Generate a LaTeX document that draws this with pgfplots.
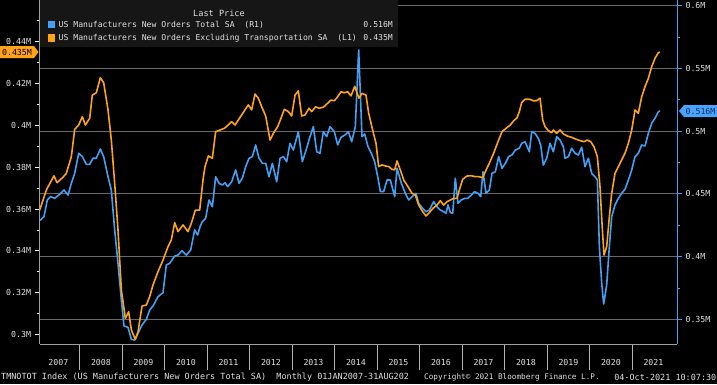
\documentclass[border=0pt]{standalone}
\usepackage{pgfplots}
\pgfplotsset{compat=1.18}
\usepackage{fontspec}
\setmainfont{DejaVu Sans Mono}
\newfontfamily\bbg{DejaVu Sans Mono}
\definecolor{bblue}{RGB}{66,160,245}
\definecolor{borange}{RGB}{255,163,26}
\definecolor{gridc}{RGB}{105,105,105}
\definecolor{txt}{RGB}{225,225,225}
\definecolor{legbg}{RGB}{22,22,22}
\definecolor{tagblue}{RGB}{74,163,255}
\definecolor{tagtxtb}{RGB}{20,45,90}

\pgfplotstableread{
x y
2007.058 0.4286
2007.160 0.4318
2007.238 0.4451
2007.317 0.4477
2007.411 0.4464
2007.529 0.4496
2007.631 0.4530
2007.725 0.4490
2007.803 0.4584
2007.882 0.4663
2007.976 0.4823
2008.062 0.4796
2008.156 0.4735
2008.235 0.4735
2008.313 0.4783
2008.391 0.4783
2008.485 0.4857
2008.564 0.4796
2008.666 0.4636
2008.744 0.4530
2008.823 0.4212
2008.901 0.3946
2008.980 0.3654
2009.042 0.3447
2009.136 0.3436
2009.215 0.3340
2009.293 0.3335
2009.372 0.3388
2009.466 0.3455
2009.568 0.3500
2009.646 0.3574
2009.725 0.3606
2009.842 0.3680
2009.960 0.3712
2010.038 0.3933
2010.117 0.3946
2010.235 0.4004
2010.313 0.4012
2010.407 0.4047
2010.509 0.4012
2010.611 0.4052
2010.705 0.4212
2010.776 0.4172
2010.831 0.4238
2010.885 0.4278
2010.964 0.4305
2011.042 0.4451
2011.121 0.4397
2011.199 0.4636
2011.278 0.4584
2011.356 0.4570
2011.419 0.4588
2011.482 0.4557
2011.576 0.4596
2011.670 0.4690
2011.748 0.4584
2011.827 0.4624
2011.905 0.4716
2011.984 0.4783
2012.062 0.4796
2012.140 0.4889
2012.219 0.4783
2012.297 0.4743
2012.376 0.4743
2012.454 0.4636
2012.533 0.4743
2012.635 0.4596
2012.713 0.4783
2012.791 0.4796
2012.870 0.4756
2012.948 0.4902
2013.027 0.4849
2013.144 0.4995
2013.238 0.4756
2013.340 0.4863
2013.395 0.4929
2013.497 0.5035
2013.576 0.4835
2013.654 0.4823
2013.732 0.4995
2013.811 0.4955
2013.889 0.5035
2013.991 0.4995
2014.070 0.4889
2014.148 0.4950
2014.242 0.4969
2014.321 0.4995
2014.399 0.4915
2014.485 0.5035
2014.564 0.5646
2014.642 0.4955
2014.705 0.4977
2014.784 0.4875
2014.862 0.4823
2014.940 0.4756
2015.019 0.4624
2015.074 0.4517
2015.152 0.4517
2015.231 0.4610
2015.309 0.4610
2015.411 0.4477
2015.466 0.4703
2015.568 0.4584
2015.662 0.4504
2015.740 0.4451
2015.819 0.4477
2015.913 0.4504
2015.976 0.4424
2016.070 0.4384
2016.148 0.4357
2016.227 0.4371
2016.329 0.4437
2016.407 0.4397
2016.485 0.4371
2016.564 0.4357
2016.619 0.4345
2016.666 0.4411
2016.721 0.4350
2016.776 0.4345
2016.838 0.4624
2016.901 0.4424
2016.980 0.4451
2017.058 0.4464
2017.136 0.4464
2017.215 0.4490
2017.293 0.4517
2017.372 0.4504
2017.435 0.4477
2017.489 0.4676
2017.560 0.4504
2017.638 0.4530
2017.701 0.4663
2017.780 0.4676
2017.858 0.4796
2017.936 0.4703
2018.015 0.4743
2018.093 0.4796
2018.172 0.4810
2018.250 0.4849
2018.344 0.4863
2018.399 0.4902
2018.478 0.4915
2018.580 0.4835
2018.635 0.4995
2018.713 0.4982
2018.791 0.4942
2018.846 0.4889
2018.909 0.4729
2018.987 0.4783
2019.066 0.4902
2019.144 0.4835
2019.223 0.4955
2019.301 0.4929
2019.380 0.4875
2019.419 0.4783
2019.497 0.4796
2019.576 0.4863
2019.654 0.4823
2019.733 0.4809
2019.811 0.4871
2019.889 0.4716
2019.968 0.4783
2020.046 0.4663
2020.125 0.4636
2020.180 0.4610
2020.227 0.4079
2020.282 0.3787
2020.329 0.3622
2020.399 0.3773
2020.462 0.4079
2020.517 0.4318
2020.595 0.4411
2020.674 0.4464
2020.752 0.4504
2020.831 0.4536
2020.909 0.4610
2020.988 0.4690
2021.066 0.4796
2021.144 0.4823
2021.223 0.4889
2021.301 0.4881
2021.380 0.4982
2021.458 0.5062
2021.536 0.5102
2021.615 0.5154
2021.654 0.5160
}\totaldata

\pgfplotstableread{
x y
2007.058 0.3595
2007.215 0.3691
2007.395 0.3759
2007.466 0.3726
2007.607 0.3752
2007.685 0.3771
2007.803 0.3850
2007.882 0.3981
2007.976 0.4002
2008.062 0.4042
2008.133 0.4002
2008.235 0.4034
2008.297 0.4145
2008.391 0.4156
2008.485 0.4228
2008.564 0.4204
2008.666 0.4074
2008.744 0.3930
2008.823 0.3723
2008.901 0.3500
2008.980 0.3213
2009.074 0.3077
2009.152 0.3109
2009.215 0.3022
2009.309 0.2977
2009.372 0.3013
2009.466 0.3136
2009.568 0.3141
2009.646 0.3181
2009.725 0.3237
2009.842 0.3300
2009.960 0.3356
2010.078 0.3420
2010.156 0.3452
2010.235 0.3535
2010.313 0.3492
2010.431 0.3524
2010.548 0.3492
2010.627 0.3532
2010.721 0.3595
2010.823 0.3595
2010.901 0.3739
2010.948 0.3803
2011.027 0.3854
2011.121 0.3843
2011.199 0.3970
2011.301 0.3978
2011.403 0.3986
2011.497 0.4002
2011.576 0.4018
2011.654 0.4002
2011.733 0.4026
2011.811 0.4050
2011.889 0.4074
2011.968 0.4098
2012.046 0.4074
2012.125 0.4150
2012.203 0.4130
2012.282 0.4089
2012.376 0.4045
2012.478 0.3930
2012.556 0.3962
2012.658 0.3994
2012.736 0.4034
2012.815 0.4077
2012.909 0.4066
2012.987 0.4045
2013.066 0.4145
2013.144 0.4165
2013.223 0.4045
2013.301 0.4050
2013.395 0.4082
2013.458 0.4066
2013.552 0.4089
2013.631 0.4082
2013.732 0.4087
2013.834 0.4106
2013.913 0.4121
2013.991 0.4118
2014.070 0.4137
2014.148 0.4161
2014.227 0.4156
2014.305 0.4161
2014.384 0.4141
2014.470 0.4187
2014.570 0.4130
2014.642 0.4153
2014.736 0.4145
2014.799 0.4058
2014.893 0.3978
2014.972 0.3914
2015.034 0.3803
2015.113 0.3811
2015.191 0.3806
2015.270 0.3803
2015.348 0.3790
2015.411 0.3787
2015.466 0.3830
2015.544 0.3787
2015.623 0.3739
2015.725 0.3707
2015.819 0.3675
2015.897 0.3667
2015.976 0.3619
2016.070 0.3587
2016.148 0.3567
2016.227 0.3583
2016.313 0.3604
2016.407 0.3619
2016.485 0.3640
2016.564 0.3619
2016.642 0.3635
2016.721 0.3643
2016.799 0.3651
2016.878 0.3651
2016.932 0.3691
2017.011 0.3742
2017.113 0.3758
2017.215 0.3759
2017.309 0.3755
2017.388 0.3755
2017.482 0.3750
2017.544 0.3779
2017.638 0.3819
2017.740 0.3867
2017.842 0.3922
2017.936 0.3970
2018.031 0.3986
2018.132 0.4002
2018.211 0.4022
2018.289 0.4036
2018.344 0.4066
2018.399 0.4109
2018.478 0.4125
2018.580 0.4125
2018.674 0.4118
2018.752 0.4118
2018.831 0.4130
2018.893 0.4026
2018.948 0.3994
2019.027 0.3975
2019.105 0.3965
2019.144 0.3978
2019.223 0.3962
2019.301 0.3978
2019.380 0.3959
2019.474 0.3949
2019.576 0.3943
2019.678 0.3934
2019.772 0.3927
2019.866 0.3922
2019.944 0.3930
2020.023 0.3922
2020.101 0.3898
2020.180 0.3850
2020.242 0.3707
2020.289 0.3532
2020.336 0.3380
2020.399 0.3420
2020.462 0.3563
2020.517 0.3675
2020.595 0.3771
2020.674 0.3803
2020.752 0.3835
2020.831 0.3867
2020.909 0.3914
2020.988 0.3978
2021.066 0.4074
2021.144 0.4058
2021.223 0.4137
2021.301 0.4185
2021.380 0.4225
2021.458 0.4281
2021.536 0.4321
2021.615 0.4348
2021.654 0.4350
}\exdata

\pgfplotsset{
  bbaxis/.style={
    at={(39.5bp,40bp)}, anchor=south west,
    scale only axis, width=637.5bp, height=344bp,
    xmin=2007.054, xmax=2022.054,
    tick align=outside,
    ticklabel style={font=\fontsize{8.3}{9}\bbg, color=txt},
  }
}

\begin{document}
\begin{tikzpicture}[x=1bp,y=1bp]
\fill[black] (0,0) rectangle (717,384);
\useasboundingbox (0,0) rectangle (717,384);

% right axis (total orders) with grid
\begin{axis}[bbaxis,
  ymin=0.33032, ymax=0.60442,
  axis x line=none, axis y line*=right,
  y axis line style={bblue, line width=0.8bp, -},
  ytick={0.35,0.4,0.45,0.5,0.55,0.6},
  yticklabels={0.35M,0.4M,0.45M,0.5M,0.55M,0.6M},
  minor ytick={0.375,0.425,0.475,0.525,0.575},
  major tick length=5bp, minor tick length=3bp,
  ytick style={bblue, line width=0.8bp},
  ymajorgrids, major grid style={gridc, line width=0.8bp},
]
\addplot[bblue, line width=1.6bp, line join=round] table[x=x,y=y] {\totaldata};
\end{axis}

% left axis (ex transportation)
\begin{axis}[bbaxis,
  ymin=0.29546, ymax=0.45997,
  axis x line=none, axis y line*=left,
  y axis line style={gray!75, line width=0.8bp, -},
  ytick={0.30,0.32,0.34,0.36,0.38,0.40,0.42,0.44},
  yticklabels={0.3M,0.32M,0.34M,0.36M,0.38M,0.4M,0.42M,0.44M},
  minor ytick={0.31,0.33,0.35,0.37,0.39,0.41,0.43,0.45},
  major tick length=5bp, minor tick length=3bp,
  ytick style={white, line width=0.8bp},
]
\addplot[borange, line width=1.6bp, line join=round] table[x=x,y=y] {\exdata};
\end{axis}

% x axis: year separators and labels
\begin{axis}[bbaxis,
  ymin=0, ymax=1,
  axis y line=none, axis x line*=bottom,
  x axis line style={gray!75, line width=0.8bp, -},
  xtick={2007.5,2008.5,2009.5,2010.5,2011.5,2012.5,2013.5,2014.5,2015.5,2016.5,2017.5,2018.5,2019.5,2020.5,2021.5},
  xticklabels={2007,2008,2009,2010,2011,2012,2013,2014,2015,2016,2017,2018,2019,2020,2021},
  minor xtick={2008,2009,2010,2011,2012,2013,2014,2015,2016,2017,2018,2019,2020,2021},
  major tick length=0bp, minor tick length=26bp,
  xtick style={gray!60, line width=0.6bp},
  xticklabel style={anchor=center, yshift=-18bp},
]
\end{axis}

% legend box
\fill[legbg] (39.5,337) rectangle (398,384);
\node[font=\fontsize{8.6}{9}\bbg, text=txt, inner sep=0] at (219,371) {Last Price};
\fill[bblue] (47.5,355.5) rectangle (55,363);
\node[font=\fontsize{8.15}{9}\bbg, text=txt, inner sep=0, anchor=west] at (58.5,359) {US Manufacturers New Orders Total SA\ \ (R1)};
\node[font=\fontsize{8.15}{9}\bbg, text=txt, inner sep=0, anchor=east] at (393,359) {0.516M};
\fill[borange] (47.5,342.5) rectangle (55,350);
\node[font=\fontsize{8.15}{9}\bbg, text=txt, inner sep=0, anchor=west] at (58.5,346) {US Manufacturers New Orders Excluding Transportation SA\ \ (L1)};
\node[font=\fontsize{8.15}{9}\bbg, text=txt, inner sep=0, anchor=east] at (393,346) {0.435M};

% last value tags
\fill[borange] (0,326) -- (34,326) -- (38.5,332) -- (34,338) -- (0,338) -- cycle;
\node[font=\fontsize{8.3}{9}\bbg, text=black, inner sep=0] at (17,332) {0.435M};
\fill[tagblue] (717,267) -- (684,267) -- (679,273) -- (684,279) -- (717,279) -- cycle;
\node[font=\fontsize{8.3}{9}\bbg, text=tagtxtb, inner sep=0] at (700.5,273) {0.516M};

% footer
\node[font=\fontsize{8.5}{9}\bbg, text=txt, inner sep=0, anchor=west] at (1,7) {TMNOTOT Index (US Manufacturers New Orders Total SA)\ \ Monthly 01JAN2007-31AUG202};
\node[font=\fontsize{7.7}{9}\bbg, text=txt, inner sep=0, anchor=west] at (424,7) {Copyright© 2021 Bloomberg Finance L.P.};
\node[font=\fontsize{8.5}{9}\bbg, text=txt, inner sep=0, anchor=east] at (716.5,7) {04-Oct-2021 10:07:30};
\end{tikzpicture}
\end{document}
